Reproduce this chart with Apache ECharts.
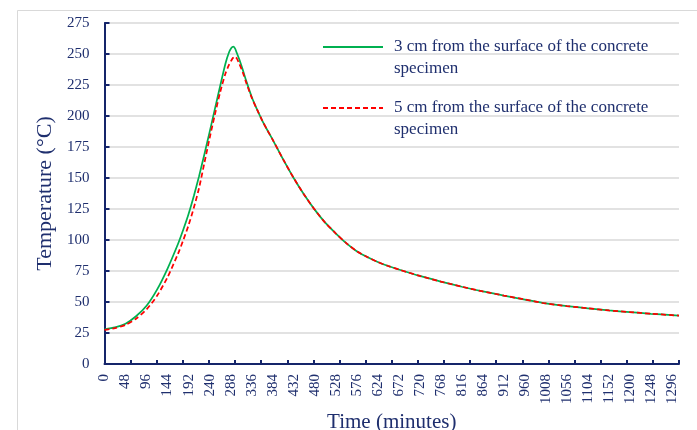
<!DOCTYPE html>
<html>
<head>
<meta charset="utf-8">
<script src="https://cdn.jsdelivr.net/npm/echarts@6/dist/echarts.min.js"></script>
<style>
  html, body { margin: 0; padding: 0; background: #ffffff; }
  #chart { width: 697px; height: 430px; }
</style>
</head>
<body>
<div id="chart"></div>
<script>
// Time after the start of heating (minutes)
const timeMinutes = [0, 24, 48, 72, 96, 120, 144, 168, 180, 192,
  204, 216, 228, 240, 252, 264, 276, 284, 290, 294,
  298, 302, 308, 316, 324, 336, 348, 360, 372, 384,
  408, 432, 456, 480, 504, 528, 552, 576, 600, 624,
  648, 672, 720, 768, 816, 864, 912, 960, 1008, 1056,
  1104, 1152, 1200, 1248, 1296, 1312];

// Temperature 3 cm below the surface (°C)
const temp3cm = [28, 29.5, 32.5, 38.5, 47, 60, 77, 97, 108.5, 121,
  135.5, 151.5, 169, 187, 205.5, 224, 242, 251, 255, 256,
  254.5, 251, 245.5, 237, 228, 215.5, 205.5, 196.5, 188.5, 181,
  165, 150, 136.5, 124.5, 114, 105.4, 97.5, 91, 86.3, 82.3,
  79, 76.2, 71, 66.5, 62.3, 58.5, 55.2, 52, 48.8, 46.7,
  44.9, 43.2, 41.8, 40.5, 39.4, 39];

// Temperature 5 cm below the surface (°C)
const temp5cm = [27.5, 29, 31.5, 36.5, 44, 55, 70, 89, 100, 112,
  126, 142, 162, 182, 201, 219, 234, 241, 245, 247,
  248, 246.5, 242, 235, 226.5, 215, 205.5, 196.5, 188.5, 181,
  165, 150, 136.5, 124.5, 114, 105.4, 97.5, 91, 86.3, 82.3,
  79, 76.2, 71, 66.5, 62.3, 58.5, 55.2, 52, 48.8, 46.7,
  44.9, 43.2, 41.8, 40.5, 39.4, 39];

const seriesNames = [
  '3 cm from the surface of the concrete specimen',
  '5 cm from the surface of the concrete specimen'
];
// legend text is wrapped after "concrete"
const wrapAt = 'concrete';

const FONT = "'Liberation Serif', 'Times New Roman', serif";
const INK = '#1f2f6e';
const AXIS = '#15256a';
const GRID = '#d9d9d9';

const chart = echarts.init(document.getElementById('chart'), null, { renderer: 'canvas' });

function pairs(xs, ys) { return xs.map((x, i) => [x, ys[i]]); }

function legendLabel(name) {
  const cut = name.indexOf(wrapAt) + wrapAt.length;
  // an empty first line keeps the swatch level with the first text line
  return '\n{g| }' + name.slice(0, cut) + '\n{g| }' + name.slice(cut + 1);
}

function legendAt(top, name) {
  return {
    data: [name],
    left: 322,
    top: top,
    padding: 0,
    orient: 'vertical',
    itemWidth: 60,
    itemHeight: 14,
    selectedMode: false,
    itemStyle: { opacity: 0 },
    formatter: legendLabel,
    textStyle: {
      fontFamily: FONT,
      fontSize: 17,
      color: INK,
      lineHeight: 22,
      rich: { g: { width: 6, fontSize: 17, lineHeight: 22 } }
    }
  };
}

chart.setOption({
  animation: false,
  backgroundColor: '#ffffff',
  graphic: [{
    type: 'rect',
    left: 15, top: 8,
    shape: { width: 720, height: 450 },
    style: { fill: 'none', stroke: '#d9d9d9', lineWidth: 1 },
    silent: true
  }],
  legend: [legendAt(14, seriesNames[0]), legendAt(75, seriesNames[1])],
  grid: { left: 104.5, top: 23, right: 18, bottom: 66, containLabel: false, outerBoundsMode: 'none' },
  xAxis: [{
    type: 'value',
    min: 0, max: 1312, interval: 48,
    name: 'Time (minutes)',
    nameLocation: 'middle',
    nameGap: 44,
    nameTextStyle: { fontFamily: FONT, fontSize: 21, color: INK },
    axisLine: { show: true, onZero: false, lineStyle: { color: AXIS, width: 2 } },
    axisTick: { show: false },
    splitLine: { show: false },
    axisLabel: {
      rotate: 90, margin: 10, showMaxLabel: false,
      formatter: v => String(v),
      fontFamily: FONT, fontSize: 15, color: INK
    }
  }, {
    // tick marks spaced independently of the labels
    type: 'value',
    min: 0, max: 22, interval: 1,
    position: 'bottom',
    axisLine: { show: false },
    axisTick: { show: true, inside: true, length: 4, lineStyle: { color: AXIS, width: 2 } },
    axisLabel: { show: false },
    splitLine: { show: false }
  }],
  yAxis: {
    type: 'value',
    min: 0, max: 275, interval: 25,
    name: 'Temperature (°C)',
    nameLocation: 'middle',
    nameGap: 48,
    nameTextStyle: { fontFamily: FONT, fontSize: 22, color: INK },
    axisLine: { show: true, lineStyle: { color: AXIS, width: 2 } },
    axisTick: { show: true, inside: true, length: 5, lineStyle: { color: AXIS, width: 2 } },
    splitLine: { show: true, lineStyle: { color: GRID, width: 1.5 } },
    axisLabel: { margin: 15, fontFamily: FONT, fontSize: 15, color: INK }
  },
  series: [{
    name: seriesNames[0],
    type: 'line',
    xAxisIndex: 0,
    data: pairs(timeMinutes, temp3cm),
    smooth: 0.25,
    showSymbol: false,
    symbol: 'none',
    lineStyle: { color: '#00b050', width: 1.75 },
    itemStyle: { color: '#00b050' }
  }, {
    name: seriesNames[1],
    type: 'line',
    xAxisIndex: 0,
    data: pairs(timeMinutes, temp5cm),
    smooth: 0.25,
    showSymbol: false,
    symbol: 'none',
    lineStyle: { color: '#ff0000', width: 1.75, type: [5, 3] },
    itemStyle: { color: '#ff0000' }
  }]
});
</script>
</body>
</html>
